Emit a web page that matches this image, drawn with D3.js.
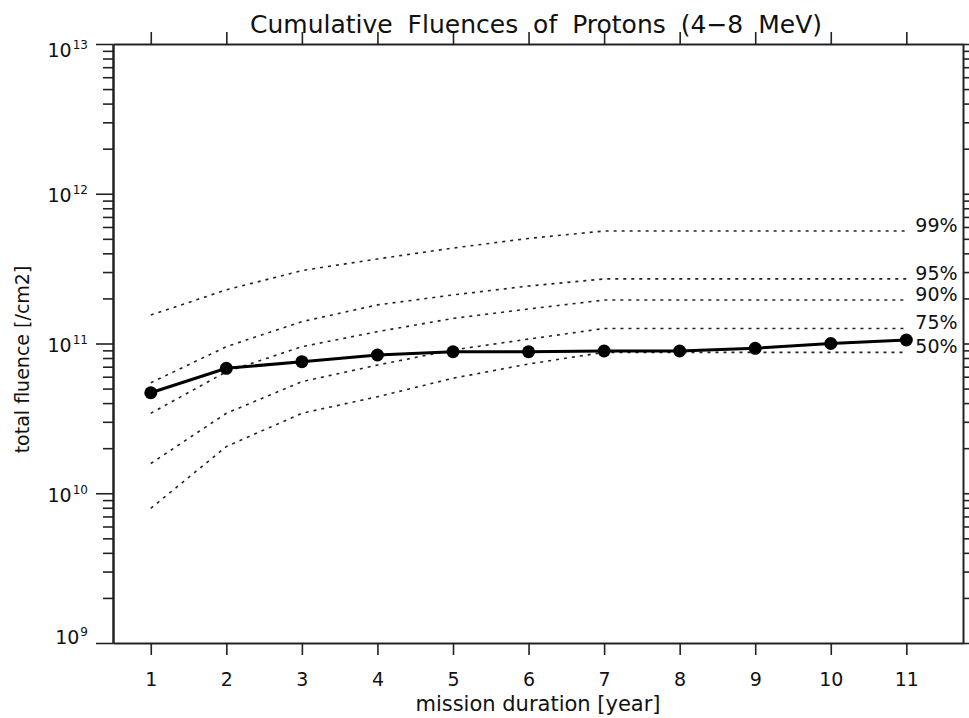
<!DOCTYPE html>
<html>
<head>
<meta charset="utf-8">
<script src="https://cdn.jsdelivr.net/npm/d3@7"></script>
<style>
  body { margin: 0; background: #fff; }
  svg text { font-family: 'DejaVu Sans', sans-serif; fill: #111; }
</style>
</head>
<body>
<div id="chart"></div>
<script>
const years = [1, 2, 3, 4, 5, 6, 7, 8, 9, 10, 11]
const meanFluence = [4.69e10, 6.83e10, 7.56e10, 8.38e10, 8.81e10, 8.81e10, 8.91e10, 8.91e10, 9.29e10, 1.0e11, 1.055e11]
const fluence99 = [1.55e11, 2.28e11, 3.07e11, 3.67e11, 4.34e11, 5.03e11, 5.64e11, 5.64e11, 5.64e11, 5.64e11, 5.64e11]
const fluence95 = [5.47e10, 9.52e10, 1.4e11, 1.81e11, 2.11e11, 2.42e11, 2.7e11, 2.7e11, 2.7e11, 2.7e11, 2.7e11]
const fluence90 = [3.42e10, 6.48e10, 9.52e10, 1.2e11, 1.47e11, 1.7e11, 1.95e11, 1.95e11, 1.95e11, 1.95e11, 1.95e11]
const fluence75 = [1.58e10, 3.42e10, 5.56e10, 7.18e10, 9.05e10, 1.07e11, 1.26e11, 1.26e11, 1.26e11, 1.26e11, 1.26e11]
const fluence50 = [7.93e9, 2.05e10, 3.42e10, 4.41e10, 5.86e10, 7.3e10, 8.73e10, 8.73e10, 8.73e10, 8.73e10, 8.73e10]
const percentileLabels = ['99%', '95%', '90%', '75%', '50%']
const yTickExponents = [9, 10, 11, 12, 13]

const percentileSeries = [fluence99, fluence95, fluence90, fluence75, fluence50]

const width = 969
const height = 718
const margin = { top: 44, right: 6, bottom: 75, left: 113 }

const svg = d3
  .select('#chart')
  .append('svg')
  .attr('width', width)
  .attr('height', height)

const xScale = d3
  .scaleLinear()
  .domain([0.5, 11.75])
  .range([margin.left, width - margin.right])

const yScale = d3
  .scaleLog()
  .domain([1e9, 1e13])
  .range([height - margin.bottom, margin.top])

const majorTicks = yTickExponents.map((e) => Math.pow(10, e))
const minorTicks = []
yTickExponents.slice(0, -1).forEach((e) => {
  d3.range(2, 10).forEach((m) => minorTicks.push(m * Math.pow(10, e)))
})

const styleAxis = (g) => {
  g.select('.domain').attr('stroke', '#222').attr('stroke-width', 2)
  g.selectAll('.tick line').attr('stroke', '#222').attr('stroke-width', 1.6)
}

const x0 = xScale.range()[0]
const x1 = xScale.range()[1]
const y0 = yScale.range()[0]
const y1 = yScale.range()[1]

// bottom axis with labels
svg
  .append('g')
  .attr('transform', `translate(0, ${y0})`)
  .call(d3.axisBottom(xScale).tickValues(years).tickSize(12).tickSizeOuter(0).tickPadding(18).tickFormat(d3.format('d')))
  .call(styleAxis)
  .call((g) => g.selectAll('text').attr('font-size', 19).attr('font-family', null))

// top axis, ticks only
svg
  .append('g')
  .attr('transform', `translate(0, ${y1})`)
  .call(d3.axisTop(xScale).tickValues(years).tickSize(12).tickSizeOuter(0).tickFormat(''))
  .call(styleAxis)

// left axis: minor then major ticks
svg
  .append('g')
  .attr('transform', `translate(${x0}, 0)`)
  .call(d3.axisLeft(yScale).tickValues(minorTicks).tickSize(10).tickSizeOuter(0).tickFormat(''))
  .call(styleAxis)

svg
  .append('g')
  .attr('transform', `translate(${x0}, 0)`)
  .call(d3.axisLeft(yScale).tickValues(majorTicks).tickSize(17).tickSizeOuter(0).tickFormat(''))
  .call(styleAxis)

// right axis
svg
  .append('g')
  .attr('transform', `translate(${x1}, 0)`)
  .call(d3.axisRight(yScale).tickValues(minorTicks.concat(majorTicks)).tickSize(10).tickSizeOuter(0).tickFormat(''))
  .call(styleAxis)

// y tick labels as 10^n, kept inside the axis range like IDL does
const yLabels = svg
  .append('g')
  .selectAll('text')
  .data(yTickExponents)
  .join('text')
  .attr('text-anchor', 'end')
  .attr('x', x0 - 25)
  .attr('y', (e) => {
    const c = Math.min(Math.max(yScale(Math.pow(10, e)) + 1.5, y1 + 6), y0 - 6.5)
    return c + 7
  })
  .attr('font-size', 19)

yLabels.append('tspan').text('10')
yLabels
  .append('tspan')
  .attr('font-size', 12)
  .attr('dx', 1)
  .attr('dy', -8)
  .text((e) => e)

// percentile curves
const line = d3
  .line()
  .x((d, i) => xScale(years[i]))
  .y((d) => yScale(d))

svg
  .append('g')
  .selectAll('path')
  .data(percentileSeries)
  .join('path')
  .attr('d', line)
  .attr('fill', 'none')
  .attr('stroke', '#222')
  .attr('stroke-width', 1.6)
  .attr('stroke-dasharray', '3,5')

svg
  .append('g')
  .selectAll('text')
  .data(percentileSeries)
  .join('text')
  .attr('x', xScale(years[years.length - 1]) + 9)
  .attr('y', (d) => yScale(d[d.length - 1]) + 1)
  .attr('font-size', 19)
  .text((d, i) => percentileLabels[i])

// mean curve
svg
  .append('path')
  .datum(meanFluence)
  .attr('d', line)
  .attr('fill', 'none')
  .attr('stroke', '#000')
  .attr('stroke-width', 3)

svg
  .append('g')
  .selectAll('circle')
  .data(meanFluence)
  .join('circle')
  .attr('cx', (d, i) => xScale(years[i]))
  .attr('cy', (d) => yScale(d))
  .attr('r', 6.5)
  .attr('fill', '#000')

// titles
svg
  .append('text')
  .attr('x', (x0 + x1) / 2 - 2)
  .attr('y', 33)
  .attr('text-anchor', 'middle')
  .attr('font-size', 25)
  .attr('word-spacing', 7)
  .text('Cumulative Fluences of Protons (4\u22128 MeV)')

svg
  .append('text')
  .attr('x', (x0 + x1) / 2)
  .attr('y', 711)
  .attr('text-anchor', 'middle')
  .attr('font-size', 21)
  .text('mission duration [year]')

svg
  .append('text')
  .attr('transform', `translate(29, ${(y0 + y1) / 2 + 16}) rotate(-90)`)
  .attr('text-anchor', 'middle')
  .attr('font-size', 19)
  .text('total fluence [/cm2]')
</script>
</body>
</html>
